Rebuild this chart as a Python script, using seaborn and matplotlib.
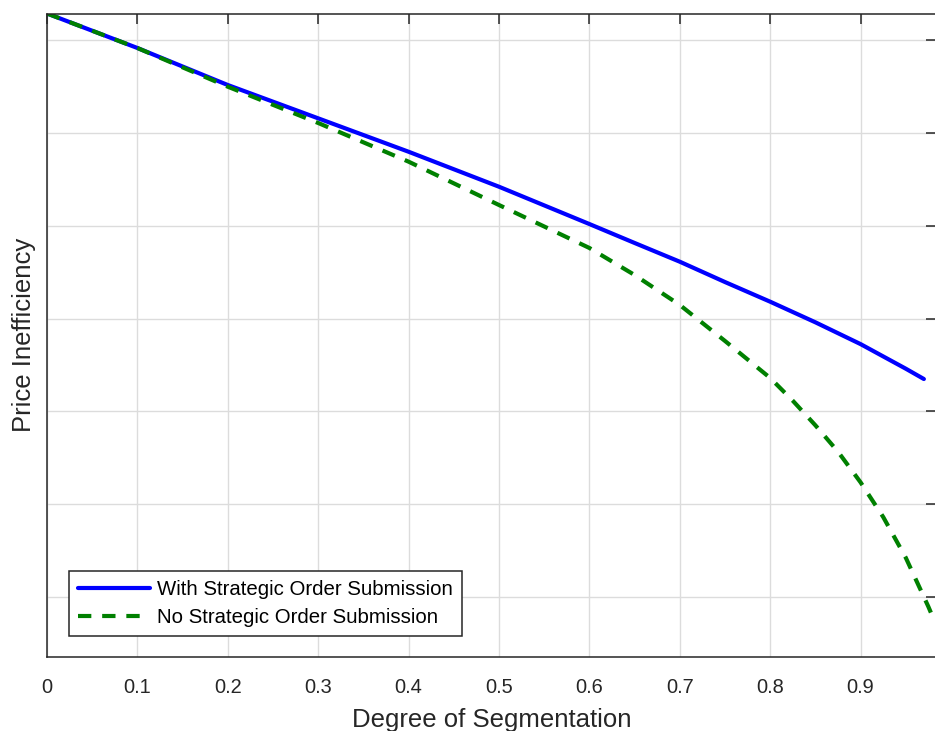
import matplotlib
matplotlib.use("Agg")
import matplotlib.pyplot as plt
import seaborn as sns
import pandas as pd

# Degree of segmentation (x) and price inefficiency (arbitrary units, y)
seg_strategic = [0.0, 0.1, 0.2, 0.3, 0.4, 0.5, 0.6, 0.65, 0.7, 0.75, 0.8, 0.85, 0.9, 0.95, 0.97]
ineff_strategic = [6.288, 5.916, 5.517, 5.158, 4.798, 4.421, 4.019, 3.815, 3.613, 3.394, 3.182,
                   2.960, 2.725, 2.460, 2.349]

seg_naive = [0.0, 0.1, 0.2, 0.3, 0.4, 0.5, 0.6, 0.65, 0.7, 0.75, 0.8, 0.825, 0.85, 0.875,
             0.9, 0.925, 0.95, 0.975, 0.98]
ineff_naive = [6.288, 5.916, 5.499, 5.108, 4.691, 4.224, 3.761, 3.470, 3.147, 2.759, 2.360,
               2.115, 1.850, 1.566, 1.235, 0.862, 0.423, -0.105, -0.220]

x_ticks = [0.0, 0.1, 0.2, 0.3, 0.4, 0.5, 0.6, 0.7, 0.8, 0.9]
x_tick_labels = ["0", "0.1", "0.2", "0.3", "0.4", "0.5", "0.6", "0.7", "0.8", "0.9"]
y_ticks = [0, 1, 2, 3, 4, 5, 6]

label_strategic = "With Strategic Order Submission"
label_naive = "No Strategic Order Submission"

sns.set_style("white")
plt.rcParams["font.family"] = ["Liberation Sans", "DejaVu Sans"]

df_s = pd.DataFrame({"x": seg_strategic, "y": ineff_strategic})
df_n = pd.DataFrame({"x": seg_naive, "y": ineff_naive})

fig = plt.figure(figsize=(9.35, 7.31), dpi=100)
ax = fig.add_axes([47 / 935, 1 - 657 / 731, (936 - 47) / 935, (657 - 13.5) / 731])

sns.lineplot(data=df_s, x="x", y="y", ax=ax, color=(0, 0, 1), linewidth=3.0,
             label=label_strategic, sort=False, estimator=None)
sns.lineplot(data=df_n, x="x", y="y", ax=ax, color=(0, 0.5, 0), linewidth=3.0,
             linestyle=(0, (3.2, 2.6)), label=label_naive, sort=False, estimator=None)

ax.set_xlim(0, (936 - 47) / 904)
ax.set_ylim((597 - 657) / 92.8, (597 - 13.5) / 92.8)
ax.set_xticks(x_ticks)
ax.set_xticklabels(x_tick_labels)
ax.set_yticks(y_ticks)
ax.set_yticklabels([])

ax.grid(True, color="#dcdcdc", linewidth=1.0)
ax.set_axisbelow(True)

for side in ["left", "bottom", "top", "right"]:
    ax.spines[side].set_visible(True)
    ax.spines[side].set_color("#262626")
    ax.spines[side].set_linewidth(1.1)

ax.tick_params(axis="both", which="both", direction="in", length=7, width=1.1,
               color="#262626", top=True, right=True, labelsize=14.4,
               labelcolor="#262626", pad=15)

ax.set_xlabel("Degree of Segmentation", fontsize=18.5, color="#262626", labelpad=8)
ax.set_ylabel("Price Inefficiency", fontsize=18.5, color="#262626")
ax.yaxis.set_label_coords((36 - 47) / 889, 0.5)

leg = ax.legend(loc="lower left", bbox_to_anchor=((69 - 47) / 889, (657 - 636) / 643.5),
                borderaxespad=0, fontsize=14.7, frameon=True, fancybox=False,
                edgecolor="#262626", framealpha=1.0, handlelength=3.5,
                handletextpad=0.35, borderpad=0.45, labelspacing=0.42)
leg.get_frame().set_linewidth(1.1)
for t in leg.get_texts():
    t.set_color("black")

fig.savefig("out.png", dpi=100)
